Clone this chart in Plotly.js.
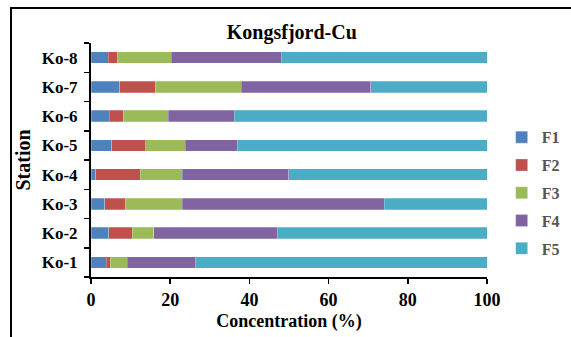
<!DOCTYPE html>
<html>
<head>
<meta charset="utf-8">
<script src="https://cdn.plot.ly/plotly-3.0.1.min.js"></script>
<style>
html,body{margin:0;padding:0;background:#fff;}
#wrap{position:relative;width:571px;height:337px;}
#chart{width:571px;height:337px;}
#frame{position:absolute;left:10px;top:7px;right:-4px;bottom:-4px;border-left:2px solid #000;border-top:2px solid #000;pointer-events:none;}
</style>
</head>
<body>
<div id="wrap"><div id="chart"></div><div id="frame"></div></div>
<script>
const stations = ["Ko-1","Ko-2","Ko-3","Ko-4","Ko-5","Ko-6","Ko-7","Ko-8"];
const F1 = [3.8, 4.5, 3.5, 1.2, 5.3, 4.6, 7.2, 4.4];
const F2 = [1.0, 5.9, 5.1, 11.2, 8.5, 3.6, 9.0, 2.2];
const F3 = [4.3, 5.4, 14.5, 10.7, 10.0, 11.3, 21.8, 13.7];
const F4 = [17.2, 31.2, 50.9, 26.8, 13.2, 16.7, 32.6, 27.8];
const F5 = [73.7, 53.0, 26.0, 50.1, 63.0, 63.8, 29.4, 51.9];
const fractionNames = ["F1","F2","F3","F4","F5"];
const fractionValues = [F1, F2, F3, F4, F5];
const colors = ["#4F81BD","#C0504D","#9BBB59","#8064A2","#4BACC6"];
const xTicks = [0,20,40,60,80,100];

const serif = "Liberation Serif, Times New Roman, serif";
const traces = fractionNames.map((n,i)=>({
  type:"bar", orientation:"h", name:n, y:stations, x:fractionValues[i],
  marker:{color:colors[i], line:{color:"rgba(255,255,255,0.5)", width:0.5}},
  legendgroup:n, hoverinfo:"x+name"
}));

const layout = {
  width:571, height:337,
  margin:{l:91, r:84, t:43, b:60, autoexpand:false},
  paper_bgcolor:"rgba(0,0,0,0)", plot_bgcolor:"#fff",
  barmode:"stack", bargap:0.6,
  title:{text:"Kongsfjord-Cu", font:{family:serif, size:20, weight:"bold", color:"#000"}, x:0.511, xanchor:"center", y:0.905, yanchor:"middle", yref:"container"},
  xaxis:{range:[0,100], tickvals:xTicks, ticktext:xTicks.map(String), ticks:"outside", ticklen:5, tickwidth:1.5, tickcolor:"#000",
    showline:true, linecolor:"#000", linewidth:2, showgrid:false, zeroline:false,
    tickfont:{family:serif, size:18, weight:"bold", color:"#000"},
    title:{text:"Concentration (%)", font:{family:serif, size:18, weight:"bold", color:"#000"}, standoff:6}},
  yaxis:{type:"category", categoryarray:stations, tickson:"boundaries", ticks:"outside", ticklen:5, tickwidth:1.5, tickcolor:"#000",
    showline:true, linecolor:"#000", linewidth:2, showgrid:false, zeroline:false, ticklabelstandoff:8,
    tickfont:{family:serif, size:17, weight:"bold", color:"#000"},
    title:{text:"Station", font:{family:serif, size:20, weight:"bold", color:"#000"}, standoff:6}},
  legend:{x:1.037, xanchor:"left", y:0.36, yanchor:"middle", traceorder:"grouped", tracegroupgap:4,
    font:{family:serif, size:16, weight:"bold", color:"#555"}, bgcolor:"rgba(0,0,0,0)", itemwidth:30},
  showlegend:true
};
Plotly.newPlot("chart", traces, layout, {displayModeBar:false, staticPlot:true});
</script>
</body>
</html>
